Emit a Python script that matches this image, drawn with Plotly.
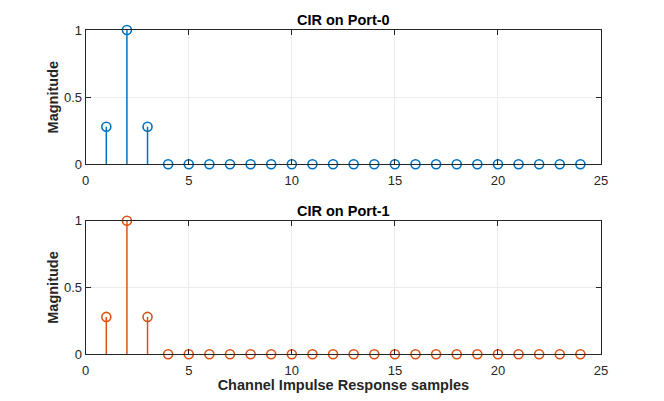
import plotly.graph_objects as go
from plotly.subplots import make_subplots

# CIR samples for each antenna port
samples = list(range(1, 25))
port0_mag = [0.28, 1.0, 0.28] + [0.0] * 21
port1_mag = [0.28, 1.0, 0.28] + [0.0] * 21

titles = ['CIR on Port-0', 'CIR on Port-1']
colors = ['#0072BD', '#D95319']

# page has an 8px body margin, so the figure is drawn 16px smaller
PAD = 8
W, H = 664 - 2 * PAD, 401 - 2 * PAD
font = 'Liberation Sans, Arial, Helvetica, sans-serif'
axcol = '#262626'

fig = make_subplots(rows=2, cols=1)


def stem_lines(x, y):
    xs, ys = [], []
    for xi, yi in zip(x, y):
        xs += [xi, xi, None]
        ys += [0, yi, None]
    return xs, ys


for i, mag in enumerate([port0_mag, port1_mag]):
    lx, ly = stem_lines(samples, mag)
    fig.add_trace(go.Scatter(x=lx, y=ly, mode='lines',
                             line=dict(color=colors[i], width=1.5),
                             showlegend=False, hoverinfo='skip'), row=i + 1, col=1)
    fig.add_trace(go.Scatter(x=samples, y=mag, mode='markers', cliponaxis=False,
                             marker=dict(symbol='circle-open', size=9, color=colors[i],
                                         line=dict(width=1.6, color=colors[i])),
                             showlegend=False), row=i + 1, col=1)


def px_x(p):
    return (p - PAD) / W


def px_y(p):
    return 1 - (p - PAD) / H


# axes placement (pixel positions)
x0, x1 = px_x(85.7), px_x(601)
doms = [(px_y(164.3), px_y(30)), (px_y(354.3), px_y(220.7))]

for r in (1, 2):
    fig.update_xaxes(row=r, col=1, domain=[x0, x1], range=[0, 25], automargin=False,
                     tickvals=[0, 5, 10, 15, 20, 25], ticks='inside', ticklen=5,
                     tickcolor=axcol, showline=True, linecolor=axcol, linewidth=1,
                     mirror='ticks', showgrid=True, gridcolor='#ebebeb', gridwidth=1,
                     zeroline=False, ticklabelstandoff=4,
                     tickfont=dict(family=font, size=13, color=axcol))
    fig.update_yaxes(row=r, col=1, domain=list(doms[r - 1]), range=[0, 1], automargin=False,
                     tickvals=[0, 0.5, 1], ticktext=['0', '0.5', '1'],
                     ticks='inside', ticklen=5, tickcolor=axcol,
                     showline=True, linecolor=axcol, linewidth=1, mirror='ticks',
                     showgrid=True, gridcolor='#ebebeb', gridwidth=1, zeroline=False,
                     tickfont=dict(family=font, size=13, color=axcol),
                     title=dict(text='<b>Magnitude</b>', standoff=1,
                                font=dict(family=font, size=14.5, color=axcol)))

fig.update_xaxes(row=2, col=1,
                 title=dict(text='<b>Channel Impulse Response samples</b>', standoff=5,
                            font=dict(family=font, size=14.5, color=axcol)))

for i, t in enumerate(titles):
    fig.add_annotation(text='<b>' + t + '</b>', x=(x0 + x1) / 2, y=doms[i][1],
                       xref='paper', yref='paper', xanchor='center', yanchor='bottom',
                       yshift=0, showarrow=False,
                       font=dict(family=font, size=14.5, color='#000000'))

fig.update_layout(width=W, height=H, margin=dict(l=0, r=0, t=0, b=0),
                  plot_bgcolor='white', paper_bgcolor='white')

fig.write_html('out.html')
